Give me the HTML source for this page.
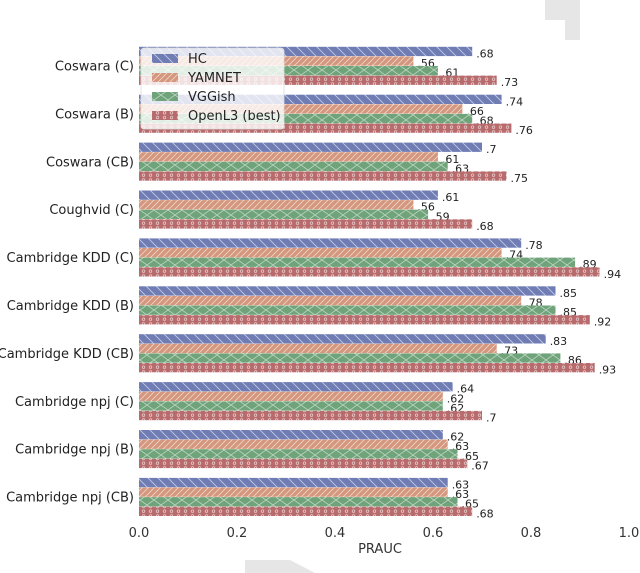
<!DOCTYPE html>
<html><head><meta charset="utf-8"><style>
body{margin:0;background:#fff;}
svg{display:block;font-family:"DejaVu Sans","Liberation Sans",sans-serif;}
</style></head><body>
<svg id="chart" width="640" height="573">
<defs>
<pattern id="pHC" width="10" height="10" patternUnits="userSpaceOnUse"><rect width="10" height="10" fill="#6f7db4"/><path d="M0,0 L10,10 M-5,5 L5,15 M5,-5 L15,5" stroke="#fff" stroke-opacity="0.6" stroke-width="0.8"/></pattern>
<pattern id="pYA" width="6" height="6" patternUnits="userSpaceOnUse"><rect width="6" height="6" fill="#d4967c"/><path d="M0,6 L6,0 M-3,3 L3,-3 M3,9 L9,3" stroke="#fff" stroke-opacity="0.6" stroke-width="0.8"/></pattern>
<pattern id="pVG" width="14" height="10" patternUnits="userSpaceOnUse"><rect width="14" height="10" fill="#6fa37a"/><path d="M0,0 L14,10 M0,10 L14,0" stroke="#fff" stroke-opacity="0.55" stroke-width="0.8"/></pattern>
<pattern id="pOL" width="7" height="4.8" patternUnits="userSpaceOnUse"><rect width="7" height="4.8" fill="#b86b6c"/><circle cx="3.5" cy="2.4" r="1.3" fill="none" stroke="#fff" stroke-opacity="0.7" stroke-width="0.7"/></pattern>
</defs>
<polygon points="545,0 580,0 580,40 565,40 565,20 545,20" fill="#e6e6e6"/>
<polygon points="245,560 290,560 315,573 245,573" fill="#e6e6e6"/>
<g id="bars"></g>
<g id="axis"></g>
<g id="legend">
<rect x="141" y="48" width="143" height="81" rx="3" fill="#fff" fill-opacity="0.8" stroke="#ddd" stroke-width="0.8"/>
</g>
</svg>
<script>
const categories=["Coswara (C)","Coswara (B)","Coswara (CB)","Coughvid (C)","Cambridge KDD (C)","Cambridge KDD (B)","Cambridge KDD (CB)","Cambridge npj (C)","Cambridge npj (B)","Cambridge npj (CB)"];
const seriesNames=["HC","YAMNET","VGGish","OpenL3 (best)"];
const hcValues=[0.68,0.74,0.70,0.61,0.78,0.85,0.83,0.64,0.62,0.63];
const yamnetValues=[0.56,0.66,0.61,0.56,0.74,0.78,0.73,0.62,0.63,0.63];
const vggishValues=[0.61,0.68,0.63,0.59,0.89,0.85,0.86,0.62,0.65,0.65];
const openl3Values=[0.73,0.76,0.75,0.68,0.94,0.92,0.93,0.70,0.67,0.68];
const valueLabels=[
[".68",".74",".7",".61",".78",".85",".83",".64",".62",".63"],
[".56",".66",".61",".56",".74",".78",".73",".62",".63",".63"],
[".61",".68",".63",".59",".89",".85",".86",".62",".65",".65"],
[".73",".76",".75",".68",".94",".92",".93",".7",".67",".68"]];
const xTicks=[0,0.2,0.4,0.6,0.8,1.0];
const xTickLabels=["0.0","0.2","0.4","0.6","0.8","1.0"];

const NS="http://www.w3.org/2000/svg";
const x0=139,x1=629;
const xs=v=>x0+v*(x1-x0);
const groupY=i=>66+i*47.9;
const barH=9.6;
const fills=["url(#pHC)","url(#pYA)","url(#pVG)","url(#pOL)"];
const series=[hcValues,yamnetValues,vggishValues,openl3Values];
const bars=document.getElementById('bars');
function mk(tag,attrs,parent){const e=document.createElementNS(NS,tag);for(const k in attrs)e.setAttribute(k,attrs[k]);parent.appendChild(e);return e;}
categories.forEach((c,i)=>{
  const gy=groupY(i);
  series.forEach((s,j)=>{
    const y=gy-2*barH+j*barH;
    const r=mk('rect',{x:x0,y:y,width:xs(s[i])-x0,height:barH-0.3,fill:fills[j]},bars);
    
    
    const t=mk('text',{x:xs(s[i])+4,y:y+barH+1,'font-size':'11',fill:'#222'},bars);
    t.textContent=valueLabels[j][i];
    
    
  });
  const l=mk('text',{x:134,y:gy+4.5,'font-size':'13','text-anchor':'end',fill:'#222'},bars);
  l.textContent=c;
  
  
});
const axis=document.getElementById('axis');
xTicks.forEach((v,i)=>{
  const t=mk('text',{x:xs(v),y:537,'font-size':'13','text-anchor':'middle',fill:'#333'},axis);
  t.textContent=xTickLabels[i];
  
  
});
const xt=mk('text',{x:380,y:553,'font-size':'13','text-anchor':'middle',fill:'#333'},axis);
xt.textContent="PRAUC";


const lg=document.getElementById('legend');
seriesNames.forEach((n,j)=>{
  const y=54+j*19;
  const r=mk('rect',{x:152,y:y,width:26,height:9,fill:fills[j]},lg);
  
  
  const t=mk('text',{x:188,y:y+9,'font-size':'13',fill:'#222'},lg);
  t.textContent=n;
  
  
});
</script>
</body></html>
